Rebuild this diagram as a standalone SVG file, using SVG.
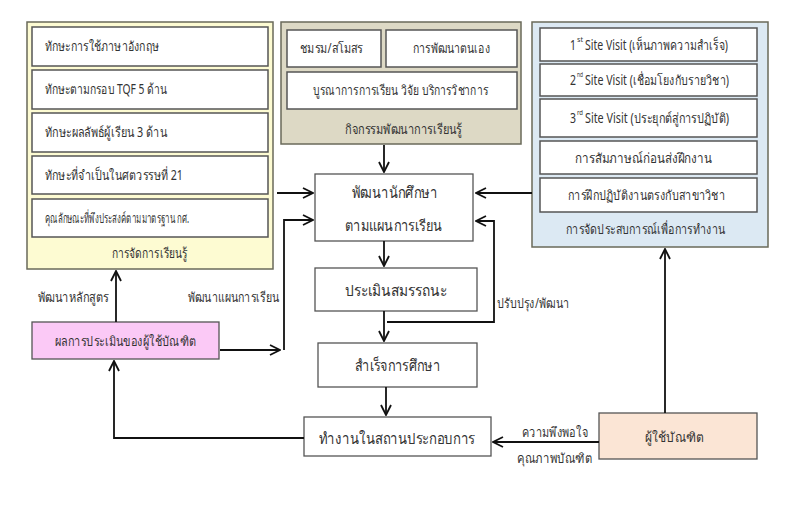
<svg xmlns="http://www.w3.org/2000/svg" width="808" height="510" viewBox="0 0 808 510">
<defs>
<marker id="arr" viewBox="0 0 12 12" refX="11" refY="6" markerWidth="12" markerHeight="12" markerUnits="userSpaceOnUse" orient="auto">
<polyline points="1,1 11,6 1,11" fill="none" stroke="#111" stroke-width="1.8"/>
</marker>
<style>
.t{font-family:"Noto Sans","DejaVu Sans",sans-serif;font-size:13.5px;fill:#333;dominant-baseline:central}
.c{text-anchor:middle}
.big{font-size:15.5px}
.inner{fill:#fff;stroke:#555;stroke-width:1.5}
.pan{stroke:#6a6a5a;stroke-width:1.5}
.box{fill:#fff;stroke:#555;stroke-width:1.3}
.ln{fill:none;stroke:#111;stroke-width:1.8}
.sup{font-size:7px}
</style>
</defs>
<rect width="808" height="510" fill="#fff"/>

<g id="panel-left">
<rect class="pan" x="27" y="22" width="246" height="247" fill="#fdfbd2"/>
<rect class="inner" x="32" y="27" width="236" height="39"/>
<rect class="inner" x="32" y="70" width="236" height="39"/>
<rect class="inner" x="32" y="113" width="236" height="39"/>
<rect class="inner" x="32" y="156" width="236" height="38"/>
<rect class="inner" x="32" y="199" width="236" height="38"/>
<text class="t" x="45" y="46" textLength="114" lengthAdjust="spacingAndGlyphs">ทักษะการใช้ภาษาอังกฤษ</text>
<text class="t" x="45" y="89" textLength="122" lengthAdjust="spacingAndGlyphs">ทักษะตามกรอบ TQF 5 ด้าน</text>
<text class="t" x="45" y="132" textLength="122" lengthAdjust="spacingAndGlyphs">ทักษะผลลัพธ์ผู้เรียน 3 ด้าน</text>
<text class="t" x="45" y="175" textLength="138" lengthAdjust="spacingAndGlyphs">ทักษะที่จำเป็นในศตวรรษที่ 21</text>
<text class="t" x="45" y="218" textLength="144" lengthAdjust="spacingAndGlyphs">คุณลักษณะที่พึงประสงค์ตามมาตรฐาน กศ.</text>
<text class="t c" x="149.5" y="253" textLength="75" lengthAdjust="spacingAndGlyphs">การจัดการเรียนรู้</text>
</g>

<g id="panel-middle">
<rect class="pan" x="281" y="22" width="240" height="122" fill="#ddd9c5"/>
<rect class="inner" x="287" y="30" width="94" height="37"/>
<rect class="inner" x="386" y="30" width="131" height="37"/>
<rect class="inner" x="287" y="72" width="230" height="37"/>
<text class="t c" x="331.5" y="48" textLength="63" lengthAdjust="spacingAndGlyphs">ชมรม/สโมสร</text>
<text class="t c" x="451.5" y="48" textLength="77" lengthAdjust="spacingAndGlyphs">การพัฒนาตนเอง</text>
<text class="t c" x="400.5" y="90" textLength="175" lengthAdjust="spacingAndGlyphs">บูรณาการการเรียน วิจัย บริการวิชาการ</text>
<text class="t c" x="403.5" y="129" textLength="117" lengthAdjust="spacingAndGlyphs">กิจกรรมพัฒนาการเรียนรู้</text>
</g>

<g id="panel-right">
<rect class="pan" x="532" y="22" width="236" height="225" fill="#dce9f3" stroke="#5f6e7c"/>
<rect class="inner" x="540" y="28" width="217" height="33"/>
<rect class="inner" x="540" y="64" width="217" height="32"/>
<rect class="inner" x="540" y="99" width="217" height="38"/>
<rect class="inner" x="540" y="141" width="217" height="33"/>
<rect class="inner" x="540" y="178" width="217" height="34"/>
<text class="t" x="570" y="45" textLength="6" lengthAdjust="spacingAndGlyphs">1</text>
<text class="t sup" x="577" y="39" textLength="6" lengthAdjust="spacingAndGlyphs">st</text>
<text class="t" x="585" y="45" textLength="143" lengthAdjust="spacingAndGlyphs">Site Visit (เห็นภาพความสำเร็จ)</text>
<text class="t" x="570" y="80" textLength="6" lengthAdjust="spacingAndGlyphs">2</text>
<text class="t sup" x="577" y="74" textLength="6" lengthAdjust="spacingAndGlyphs">nd</text>
<text class="t" x="585" y="80" textLength="144" lengthAdjust="spacingAndGlyphs">Site Visit (เชื่อมโยงกับรายวิชา)</text>
<text class="t" x="570" y="118" textLength="6" lengthAdjust="spacingAndGlyphs">3</text>
<text class="t sup" x="577" y="112" textLength="6" lengthAdjust="spacingAndGlyphs">rd</text>
<text class="t" x="585" y="118" textLength="144" lengthAdjust="spacingAndGlyphs">Site Visit (ประยุกต์สู่การปฏิบัติ)</text>
<text class="t c" x="643.5" y="158" textLength="137" lengthAdjust="spacingAndGlyphs">การสัมภาษณ์ก่อนส่งฝึกงาน</text>
<text class="t c" x="646.5" y="195" textLength="157" lengthAdjust="spacingAndGlyphs">การฝึกปฏิบัติงานตรงกับสาขาวิชา</text>
<text class="t c" x="645.5" y="229" textLength="159" lengthAdjust="spacingAndGlyphs">การจัดประสบการณ์เพื่อการทำงาน</text>
</g>

<g id="node-develop">
<rect class="box" x="315" y="174" width="158" height="67"/>
<text class="t c big" x="394.5" y="192" textLength="85" lengthAdjust="spacingAndGlyphs">พัฒนานักศึกษา</text>
<text class="t c big" x="393.5" y="225" textLength="97" lengthAdjust="spacingAndGlyphs">ตามแผนการเรียน</text>
</g>
<g id="node-assess">
<rect class="box" x="315" y="268" width="162" height="43"/>
<text class="t c big" x="396" y="290" textLength="102" lengthAdjust="spacingAndGlyphs">ประเมินสมรรถนะ</text>
</g>
<g id="node-graduate">
<rect class="box" x="318" y="343" width="159" height="44"/>
<text class="t c big" x="397.5" y="365" textLength="85" lengthAdjust="spacingAndGlyphs">สำเร็จการศึกษา</text>
</g>
<g id="node-work">
<rect class="box" x="304" y="417" width="187" height="39"/>
<text class="t c big" x="397" y="438" textLength="156" lengthAdjust="spacingAndGlyphs">ทำงานในสถานประกอบการ</text>
</g>
<g id="node-eval">
<rect x="32" y="322" width="187" height="37" fill="#fbc9f6" stroke="#555" stroke-width="1.3"/>
<text class="t c" x="125.5" y="341" textLength="141" lengthAdjust="spacingAndGlyphs">ผลการประเมินของผู้ใช้บัณฑิต</text>
</g>
<g id="node-employer">
<rect x="599" y="413" width="158" height="46" fill="#fbe5d5" stroke="#555" stroke-width="1.3"/>
<text class="t c" x="674.5" y="437" textLength="59" lengthAdjust="spacingAndGlyphs">ผู้ใช้บัณฑิต</text>
</g>

<g id="connectors">
<line class="ln" x1="384" y1="145" x2="384" y2="172" marker-end="url(#arr)"/>
<line class="ln" x1="384" y1="241" x2="384" y2="266" marker-end="url(#arr)"/>
<line class="ln" x1="384" y1="311" x2="384" y2="341" marker-end="url(#arr)"/>
<line class="ln" x1="386" y1="387" x2="386" y2="415" marker-end="url(#arr)"/>
<polyline class="ln" points="387,322 494,322 494,221 476,221" marker-end="url(#arr)"/>
<line class="ln" x1="532" y1="193" x2="476" y2="193" marker-end="url(#arr)"/>
<line class="ln" x1="277" y1="193" x2="313" y2="193" marker-end="url(#arr)"/>
<polyline class="ln" points="284,350 284,220 313,220" marker-end="url(#arr)"/>
<line class="ln" x1="220" y1="350" x2="280" y2="350" marker-end="url(#arr)"/>
<line class="ln" x1="116" y1="322" x2="116" y2="271" marker-end="url(#arr)"/>
<polyline class="ln" points="304,438 114,438 114,361" marker-end="url(#arr)"/>
<line class="ln" x1="599" y1="442" x2="493" y2="442" marker-end="url(#arr)"/>
<line class="ln" x1="665" y1="413" x2="665" y2="249" marker-end="url(#arr)"/>
<text class="t c" x="73.5" y="297" textLength="71" lengthAdjust="spacingAndGlyphs">พัฒนาหลักสูตร</text>
<text class="t c" x="233.5" y="297" textLength="91" lengthAdjust="spacingAndGlyphs">พัฒนาแผนการเรียน</text>
<text class="t" x="497" y="303" textLength="72" lengthAdjust="spacingAndGlyphs">ปรับปรุง/พัฒนา</text>
<text class="t c" x="555" y="432" textLength="66" lengthAdjust="spacingAndGlyphs">ความพึงพอใจ</text>
<text class="t c" x="554.5" y="458" textLength="75" lengthAdjust="spacingAndGlyphs">คุณภาพบัณฑิต</text>
</g>
</svg>
